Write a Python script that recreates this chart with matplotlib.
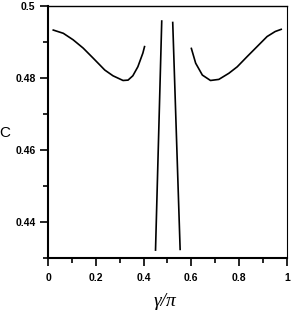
import matplotlib
matplotlib.use("Agg")
import matplotlib.pyplot as plt
from matplotlib.ticker import MultipleLocator

# left branch of C(gamma)
left_x = [0.022, 0.064, 0.105, 0.147, 0.189, 0.217, 0.2375, 0.272, 0.314, 0.335, 0.355, 0.376, 0.397, 0.404]
left_c = [0.4933, 0.4924, 0.4906, 0.4883, 0.4855, 0.4836, 0.4822, 0.4806, 0.4793, 0.4794, 0.4806, 0.4831, 0.4869, 0.4887]

# right branch
right_x = [0.600, 0.618, 0.646, 0.680, 0.715, 0.757, 0.792, 0.833, 0.875, 0.917, 0.951, 0.976]
right_c = [0.4882, 0.4841, 0.4808, 0.4793, 0.4796, 0.4813, 0.4831, 0.4859, 0.4887, 0.4915, 0.4929, 0.4935]

# narrow spikes near gamma = pi/2
spike1_x = [0.450, 0.476]
spike1_c = [0.4322, 0.4958]
spike2_x = [0.522, 0.553]
spike2_c = [0.4954, 0.4324]

xticks = [0, 0.2, 0.4, 0.6, 0.8, 1.0]
xtick_labels = ['0', '0.2', '0.4', '0.6', '0.8', '1']
yticks = [0.44, 0.46, 0.48, 0.5]
ytick_labels = ['0.44', '0.46', '0.48', '0.5']

tick_font = {'family': 'Liberation Sans', 'weight': 'bold', 'size': 7.5}

fig = plt.figure(figsize=(2.91, 3.12), dpi=100)
ax = fig.add_axes([0.165, 0.173, 0.821, 0.808])

for xs, cs in [(left_x, left_c), (right_x, right_c), (spike1_x, spike1_c), (spike2_x, spike2_c)]:
    ax.plot(xs, cs, color='black', lw=1.2, solid_joinstyle='round')

ax.set_xticks(xticks)
ax.set_xticklabels(xtick_labels, fontdict=tick_font)
ax.set_yticks(yticks)
ax.set_yticklabels(ytick_labels, fontdict=tick_font)
ax.xaxis.set_minor_locator(MultipleLocator(0.1))
ax.yaxis.set_minor_locator(MultipleLocator(0.01))
ax.set_xlim(0, 1)
ax.set_ylim(0.43, 0.5)

ax.tick_params(which='major', direction='out', length=6, width=1.2, pad=3)
ax.tick_params(which='minor', direction='out', length=3.5, width=1.2)
ax.tick_params(axis='x', which='major', pad=5)

ax.spines['left'].set_linewidth(1.5)
ax.spines['bottom'].set_linewidth(1.5)
ax.spines['top'].set_linewidth(1.0)
ax.spines['right'].set_linewidth(0.8)

ax.set_xlabel('γ/π', fontsize=14, family='Liberation Serif', style='italic')
ax.xaxis.set_label_coords(0.49, -0.14)
ax.set_ylabel('C', fontsize=11, family='Liberation Sans', rotation=0)
ax.yaxis.set_label_coords(-0.18, 0.47)

fig.savefig('out.png', dpi=100)
